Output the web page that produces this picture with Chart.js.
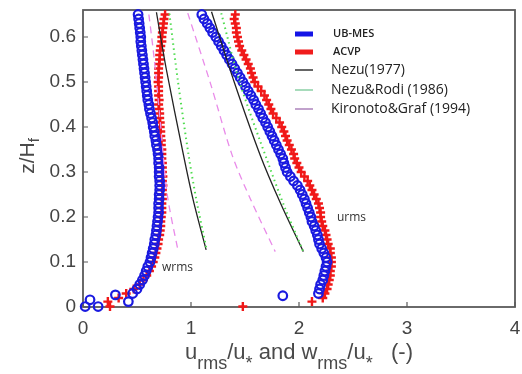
<!DOCTYPE html>
<html>
<head>
<meta charset="utf-8">
<script src="https://cdn.jsdelivr.net/npm/chart.js@4.4.1/dist/chart.umd.min.js"></script>
<style>
  body { margin: 0; background: #fff; }
  #profileChart { display: block; }
</style>
</head>
<body>
<canvas id="profileChart" width="522" height="374"></canvas>
<script>
// z/Hf levels of the measured profiles (top to bottom)
var zLevels = [
  0.65, 0.64, 0.63, 0.62, 0.61, 0.60, 0.59, 0.58, 0.57, 0.56,
  0.55, 0.54, 0.53, 0.52, 0.51, 0.50, 0.49, 0.48, 0.47, 0.46,
  0.45, 0.44, 0.43, 0.42, 0.41, 0.40, 0.39, 0.38, 0.37, 0.36,
  0.35, 0.34, 0.33, 0.32, 0.31, 0.30, 0.29, 0.28, 0.27, 0.26,
  0.25, 0.24, 0.23, 0.22, 0.21, 0.20, 0.19, 0.18, 0.17, 0.16,
  0.15, 0.14, 0.13, 0.12, 0.11, 0.10, 0.09, 0.08, 0.07, 0.06,
  0.05, 0.04
];

// UB-MES wrms/u*
var ubmesW = [
  0.51, 0.515, 0.52, 0.525, 0.53, 0.535, 0.535, 0.54, 0.545, 0.55,
  0.555, 0.56, 0.565, 0.57, 0.575, 0.58, 0.585, 0.59, 0.595, 0.60,
  0.61, 0.615, 0.625, 0.635, 0.645, 0.65, 0.66, 0.665, 0.675, 0.68,
  0.69, 0.695, 0.70, 0.70, 0.705, 0.705, 0.705, 0.71, 0.71, 0.71,
  0.705, 0.705, 0.70, 0.70, 0.70, 0.695, 0.69, 0.685, 0.68, 0.675,
  0.665, 0.66, 0.65, 0.64, 0.63, 0.62, 0.60, 0.585, 0.57, 0.55,
  0.525, 0.50
];

// UB-MES urms/u*
var ubmesU = [
  1.10, 1.12, 1.15, 1.175, 1.20, 1.23, 1.255, 1.28, 1.305, 1.33,
  1.355, 1.38, 1.405, 1.43, 1.455, 1.48, 1.505, 1.53, 1.555, 1.58,
  1.60, 1.625, 1.645, 1.665, 1.69, 1.71, 1.73, 1.75, 1.77, 1.79,
  1.81, 1.83, 1.85, 1.86, 1.875, 1.89, 1.92, 1.95, 1.985, 2.01,
  2.03, 2.05, 2.065, 2.08, 2.095, 2.11, 2.12, 2.14, 2.155, 2.17,
  2.18, 2.19, 2.21, 2.23, 2.25, 2.26, 2.25, 2.24, 2.23, 2.22,
  2.20, 2.19
];

// ACVP wrms/u*
var acvpW = [
  0.76, 0.75, 0.745, 0.74, 0.735, 0.73, 0.73, 0.72, 0.715, 0.71,
  0.71, 0.705, 0.70, 0.70, 0.70, 0.695, 0.70, 0.70, 0.70, 0.705,
  0.70, 0.705, 0.71, 0.71, 0.715, 0.715, 0.72, 0.72, 0.725, 0.725,
  0.73, 0.73, 0.73, 0.735, 0.735, 0.735, 0.74, 0.735, 0.74, 0.735,
  0.735, 0.735, 0.73, 0.73, 0.73, 0.725, 0.72, 0.72, 0.715, 0.71,
  0.70, 0.695, 0.685, 0.675, 0.665, 0.65, 0.635, 0.615, 0.59, 0.56,
  0.525, 0.47
];

// ACVP urms/u*
var acvpU = [
  1.41, 1.40, 1.41, 1.42, 1.42, 1.43, 1.44, 1.45, 1.47, 1.49,
  1.51, 1.53, 1.55, 1.56, 1.575, 1.59, 1.62, 1.65, 1.68, 1.70,
  1.72, 1.74, 1.76, 1.79, 1.82, 1.84, 1.86, 1.875, 1.89, 1.91,
  1.93, 1.95, 1.96, 1.98, 2.00, 2.02, 2.05, 2.08, 2.10, 2.12,
  2.14, 2.16, 2.18, 2.19, 2.20, 2.20, 2.21, 2.22, 2.24, 2.25,
  2.26, 2.27, 2.29, 2.29, 2.30, 2.30, 2.30, 2.29, 2.29, 2.28,
  2.27, 2.26
];

// near-bed points
var ubmesBedX = [0.46, 0.42, 0.30, 0.065, 0.14, 0.02, 2.18, 1.85];
var ubmesBedZ = [0.03, 0.012, 0.027, 0.016, 0.001, 0.001, 0.03, 0.025];
var acvpBedX = [0.40, 0.33, 0.23, 0.25, 2.24, 2.22, 2.12, 1.48];
var acvpBedZ = [0.03, 0.02, 0.012, 0.001, 0.03, 0.02, 0.012, 0.001];

// empirical curves
var nezuWz = [0.655, 0.53, 0.338, 0.238, 0.127];
var nezuWx = [0.68, 0.77, 0.93, 1.02, 1.14];
var nezuUz = [0.656, 0.50, 0.338, 0.23, 0.123];
var nezuUx = [1.19, 1.40, 1.64, 1.83, 2.04];
var rodiWz = [0.652, 0.50, 0.334, 0.238, 0.127];
var rodiWx = [0.80, 0.88, 0.98, 1.05, 1.145];
var rodiUz = [0.653, 0.50, 0.316, 0.22, 0.123];
var rodiUx = [1.28, 1.45, 1.72, 1.87, 2.04];
var kgWz = [0.65, 0.55, 0.40, 0.25, 0.125];
var kgWx = [0.61, 0.66, 0.72, 0.78, 0.88];
var kgUz = [0.653, 0.497, 0.338, 0.24, 0.123];
var kgUx = [0.97, 1.18, 1.38, 1.55, 1.78];

var xTicks = [0, 1, 2, 3, 4];
var yTicks = [0, 0.1, 0.2, 0.3, 0.4, 0.5, 0.6];

var legendItems = [
  { text: "UB-MES", kind: "bar", color: "#1414e6", font: "600 11px 'Open Sans'" },
  { text: "ACVP", kind: "bar", color: "#f01c1c", font: "600 11px 'Open Sans'" },
  { text: "Nezu(1977)", kind: "line", color: "#111111", font: "14px 'Open Sans'" },
  { text: "Nezu&Rodi (1986)", kind: "line", color: "#78c896", font: "14px 'Open Sans'" },
  { text: "Kironoto&Graf (1994)", kind: "line", color: "#a070b0", font: "14px 'Open Sans'" },
];

var blue = "#1a1ae0";
var red = "#f01818";

function pairs(xs, zs) {
  return xs.map(function (x, i) {
    return { x: x, y: zs[i] };
  });
}

function markerSet(xs, zs, color, style) {
  return {
    data: pairs(xs, zs),
    showLine: false,
    clip: 10,
    pointStyle: style,
    pointRadius: style === "circle" ? 4.3 : 4.5,
    pointBorderWidth: style === "circle" ? 2.2 : 2.4,
    pointBorderColor: color,
    pointBackgroundColor: "rgba(0,0,0,0)",
  };
}

function curveSet(xs, zs, color, width, dash) {
  return {
    data: pairs(xs, zs),
    showLine: true,
    borderColor: color,
    borderWidth: width,
    borderDash: dash,
    pointRadius: 0,
    tension: 0.3,
  };
}

var datasets = [
  curveSet(kgWx, kgWz, "#e98be9", 1.3, [7, 5]),
  curveSet(kgUx, kgUz, "#e98be9", 1.3, [7, 5]),
  curveSet(rodiWx, rodiWz, "#4fdc4f", 2, [1.5, 3.5]),
  curveSet(rodiUx, rodiUz, "#4fdc4f", 2, [1.5, 3.5]),
  curveSet(nezuWx, nezuWz, "#222222", 1.3, []),
  curveSet(nezuUx, nezuUz, "#222222", 1.3, []),
  markerSet(ubmesW, zLevels, blue, "circle"),
  markerSet(ubmesU, zLevels, blue, "circle"),
  markerSet(ubmesBedX, ubmesBedZ, blue, "circle"),
  markerSet(acvpW, zLevels, red, "cross"),
  markerSet(acvpU, zLevels, red, "cross"),
  markerSet(acvpBedX, acvpBedZ, red, "cross"),
];

// text pieces with subscripts: [text, isSub]
function drawPieces(ctx, pieces, x, y, mainFont, subFont, subShift) {
  var cx = x;
  pieces.forEach(function (p) {
    ctx.font = p[1] ? subFont : mainFont;
    ctx.fillText(p[0], cx, p[1] ? y + subShift : y);
    cx += ctx.measureText(p[0]).width;
  });
}

function piecesWidth(ctx, pieces, mainFont, subFont) {
  var w = 0;
  pieces.forEach(function (p) {
    ctx.font = p[1] ? subFont : mainFont;
    w += ctx.measureText(p[0]).width;
  });
  return w;
}

var framePlugin = {
  id: "frame",
  beforeDatasetsDraw: function (chart) {
    var ctx = chart.ctx;
    var area = chart.chartArea;
    var xs = chart.scales.x;
    var ys = chart.scales.y;

    ctx.save();
    ctx.strokeStyle = "#5a5a5a";
    ctx.lineWidth = 1.8;
    ctx.strokeRect(area.left, area.top, area.right - area.left, area.bottom - area.top);

    // inward ticks
    ctx.lineWidth = 1.2;
    ctx.beginPath();
    xTicks.forEach(function (v) {
      var px = xs.getPixelForValue(v);
      ctx.moveTo(px, area.bottom);
      ctx.lineTo(px, area.bottom - 5);
    });
    yTicks.forEach(function (v) {
      var py = ys.getPixelForValue(v);
      ctx.moveTo(area.left, py);
      ctx.lineTo(area.left + 5, py);
    });
    ctx.stroke();
    ctx.restore();
  },
  afterDraw: function (chart) {
    var ctx = chart.ctx;
    var area = chart.chartArea;

    ctx.save();
    // axis titles
    ctx.fillStyle = "#4a4a4a";
    ctx.textBaseline = "alphabetic";
    ctx.textAlign = "left";
    var mainFont = "22px 'Liberation Sans'";
    var subFont = "18px 'Liberation Sans'";
    var xTitle = [["u", 0], ["rms", 1], ["/u", 0], ["*", 1], [" and w", 0], ["rms", 1], ["/u", 0], ["*", 1], ["   (-)", 0]];
    var w = piecesWidth(ctx, xTitle, mainFont, subFont);
    drawPieces(ctx, xTitle, (area.left + area.right) / 2 - w / 2, 359, mainFont, subFont, 10);

    var yMain = "21px 'Liberation Sans'";
    var ySub = "15px 'Liberation Sans'";
    var yTitle = [["z/H", 0], ["f", 1]];
    ctx.translate(34, 156);
    ctx.rotate(-Math.PI / 2);
    var wy = piecesWidth(ctx, yTitle, yMain, ySub);
    drawPieces(ctx, yTitle, -wy / 2, 0, yMain, ySub, 5);
    ctx.setTransform(1, 0, 0, 1, 0, 0);

    // profile labels
    ctx.fillStyle = "#333";
    ctx.font = "12px 'Open Sans'";
    ctx.textBaseline = "middle";
    ctx.fillText("wrms", 162, 268);
    ctx.fillText("urms", 337, 218);

    // legend
    var legendY = [34, 52, 70, 90, 109];
    legendItems.forEach(function (item, i) {
      var y = legendY[i];
      if (item.kind === "bar") {
        ctx.fillStyle = item.color;
        ctx.fillRect(295, y - 2.5, 18, 5);
      } else {
        ctx.strokeStyle = item.color;
        ctx.lineWidth = 1.3;
        ctx.beginPath();
        ctx.moveTo(295, y);
        ctx.lineTo(313, y);
        ctx.stroke();
      }
      ctx.fillStyle = "#222";
      ctx.font = item.font;
      ctx.fillText(item.text, item.kind === "bar" ? 333 : 331, y);
    });
    ctx.restore();
  },
};

new Chart(document.getElementById("profileChart"), {
  type: "scatter",
  data: { datasets: datasets },
  plugins: [framePlugin],
  options: {
    responsive: false,
    animation: false,
    layout: { padding: { top: 10, right: 7, left: 0, bottom: 0 } },
    plugins: {
      legend: { display: false },
      tooltip: { enabled: false },
    },
    scales: {
      x: {
        type: "linear",
        min: 0,
        max: 4,
        grid: { display: false, drawTicks: false },
        border: { display: false },
        afterBuildTicks: function (scale) {
          scale.ticks = xTicks.map(function (v) {
            return { value: v };
          });
        },
        afterFit: function (scale) {
          scale.height = 67;
          scale.paddingLeft = 0;
          scale.paddingRight = 0;
        },
        ticks: {
          color: "#444",
          padding: 10,
          maxRotation: 0,
          font: { family: "Liberation Sans", size: 19 },
        },
      },
      y: {
        type: "linear",
        min: 0,
        max: 0.66,
        grid: { display: false, drawTicks: false },
        border: { display: false },
        afterBuildTicks: function (scale) {
          scale.ticks = yTicks.map(function (v) {
            return { value: v };
          });
        },
        afterFit: function (scale) {
          scale.width = 83;
          scale.paddingTop = 0;
          scale.paddingBottom = 0;
        },
        ticks: {
          color: "#444",
          padding: 7,
          font: { family: "Liberation Sans", size: 19 },
          callback: function (v) {
            return v === 0 ? "0" : v.toFixed(1);
          },
        },
      },
    },
  },
});
</script>
</body>
</html>
